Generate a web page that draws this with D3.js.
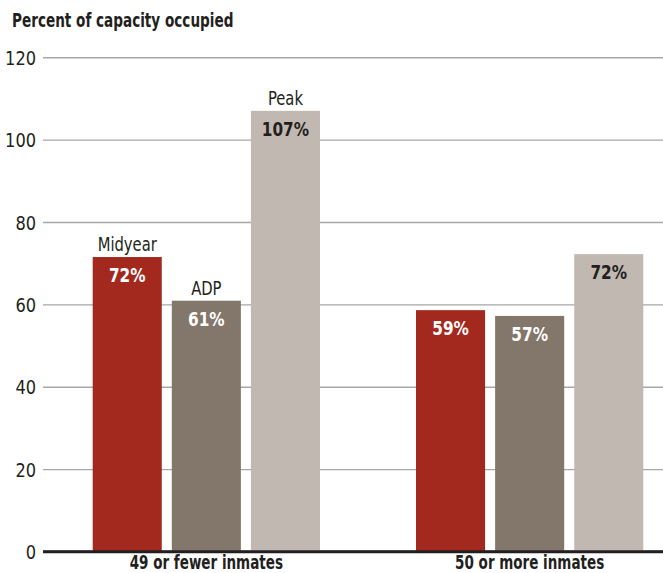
<!DOCTYPE html>
<html lang="en">
<head>
  <meta charset="UTF-8">
  <title>Capacity occupied</title>
  <style>
    body { margin: 0; background: #fff; }
    svg text { font-family: "Liberation Sans Narrow", "DejaVu Sans Condensed", "Roboto Condensed", sans-serif; font-stretch: condensed; }
  </style>
</head>
<body>
<svg width=663 height=573 id="viz"></svg>
<script src="https://cdn.jsdelivr.net/npm/d3@7"></script>
<script>
/* global d3 */

const groups = ["49 or fewer inmates", "50 or more inmates"];
const series = ["Midyear", "ADP", "Peak"];
const values = [
  [71.5, 60.9, 107.0],
  [58.6, 57.2, 72.2]
];
const labels = [
  ["72%", "61%", "107%"],
  ["59%", "57%", "72%"]
];
const yTicks = [0, 20, 40, 60, 80, 100, 120];
const colors = ["#a3291e", "#83766b", "#c1b8b2"];
const labelColors = ["#fff", "#fff", "#231f20"];

let svg = d3.select("#viz");

// squeeze text horizontally, the original uses a condensed face
function condense(sel, k) {
  sel.each(function() {
    let w = this.getComputedTextLength();
    d3.select(this).attr("textLength", w * k).attr("lengthAdjust", "spacingAndGlyphs");
  });
}

let y = d3.scaleLinear().domain([0, 120]).range([551.5, 57.3]);

let x0 = d3.scaleBand()
  .domain(groups)
  .range([92.7, 643.3])
  .paddingInner(0.297)
  .paddingOuter(0);

let x1 = d3.scaleBand()
  .domain(series)
  .range([0, x0.bandwidth()])
  .paddingInner(0.127)
  .paddingOuter(0);

// title
svg.append("text")
  .attr("x", 12)
  .attr("y", 27)
  .attr("font-size", 19)
  .attr("font-weight", "bold")
  .attr("fill", "#231f20")
  .text("Percent of capacity occupied")
  .call(condense, 0.795);

// gridlines + tick labels
let yAxis = svg.append("g")
  .attr("transform", "translate(43,0)")
  .call(d3.axisLeft(y).tickValues(yTicks).tickSize(-620).tickPadding(6));

yAxis.select(".domain").remove();
yAxis.selectAll(".tick line")
  .attr("stroke", d => d === 0 ? "#231f20" : "#a7a7a7")
  .attr("stroke-width", d => d === 0 ? 2.6 : 1.4);
yAxis.selectAll(".tick text")
  .attr("font-size", 20)
  .attr("fill", "#231f20")
  .attr("x", -7)
  .attr("dy", "0.36em")
  .call(condense, 0.9);

// bars
let rows = [];
groups.forEach((g, gi) => {
  series.forEach((s, si) => {
    rows.push({group: g, series: s, gi: gi, si: si, value: values[gi][si], label: labels[gi][si]});
  });
});

let bars = svg.append("g");

bars.selectAll(".bar")
  .data(rows)
  .enter()
  .append("rect")
  .attr("class", "bar")
  .attr("x", d => x0(d.group) + x1(d.series))
  .attr("y", d => y(d.value))
  .attr("width", x1.bandwidth())
  .attr("height", d => y(0) - y(d.value))
  .attr("fill", d => colors[d.si]);

// baseline drawn over bars
svg.append("line")
  .attr("x1", 43).attr("x2", 663)
  .attr("y1", y(0)).attr("y2", y(0))
  .attr("stroke", "#231f20")
  .attr("stroke-width", 2.6);

// value labels
bars.selectAll(".val")
  .data(rows)
  .enter()
  .append("text")
  .attr("class", "val")
  .attr("x", d => x0(d.group) + x1(d.series) + x1.bandwidth() / 2)
  .attr("y", d => y(d.value) + 25)
  .attr("text-anchor", "middle")
  .attr("font-size", 20)
  .attr("font-weight", "bold")
  .attr("fill", d => labelColors[d.si])
  .text(d => d.label)
  .call(condense, 0.85);

// series names above first group
bars.selectAll(".sname")
  .data(rows.filter(d => d.gi === 0))
  .enter()
  .append("text")
  .attr("class", "sname")
  .attr("x", d => x0(d.group) + x1(d.series) + x1.bandwidth() / 2)
  .attr("y", d => y(d.value) - 6)
  .attr("text-anchor", "middle")
  .attr("font-size", 20)
  .attr("fill", "#231f20")
  .text(d => d.series)
  .call(condense, 0.82);

// category labels
svg.selectAll(".cat")
  .data(groups)
  .enter()
  .append("text")
  .attr("class", "cat")
  .attr("x", d => x0(d) + x0.bandwidth() / 2)
  .attr("y", 569)
  .attr("text-anchor", "middle")
  .attr("font-size", 19)
  .attr("font-weight", "bold")
  .attr("fill", "#231f20")
  .text(d => d)
  .call(condense, 0.79);
</script>
</body>
</html>
